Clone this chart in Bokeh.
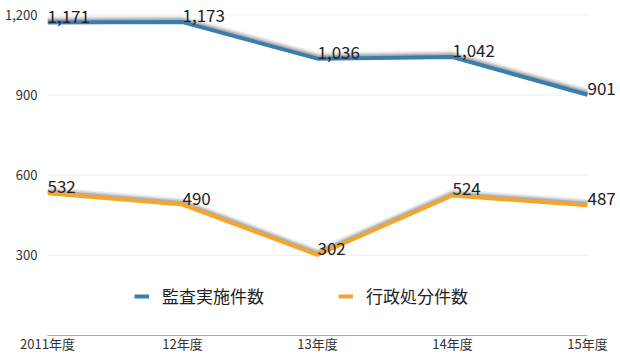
from bokeh.plotting import figure
from bokeh.models import Range1d, FixedTicker, Legend, LegendItem, ColumnDataSource, LabelSet, NumeralTickFormatter
from bokeh.core.properties import value
from bokeh.embed import file_html
from bokeh.resources import INLINE

categories = ["2011年度", "12年度", "13年度", "14年度", "15年度"]
audits = [1171, 1173, 1036, 1042, 901]
sanctions = [532, 490, 302, 524, 487]
series_names = ["監査実施件数", "行政処分件数"]
y_ticks = [300, 600, 900, 1200]

FONT = "Noto Sans CJK JP"
BLUE = "#3a7fab"
ORANGE = "#f4a52b"

xs = list(range(len(categories)))
last = len(categories) - 1

p = figure(width=620, height=355, output_backend="svg", toolbar_location=None,
           x_range=Range1d(0, last + 33 / 135), y_range=Range1d(0, 1250),
           min_border_left=47, min_border_right=0, min_border_top=1, min_border_bottom=10)
p.outline_line_color = None
p.background_fill_color = "white"
p.border_fill_color = "white"

# axes
p.xaxis.ticker = FixedTicker(ticks=xs)
p.xaxis.bounds = (0, last)
p.xaxis.major_label_overrides = {i: c for i, c in enumerate(categories)}
p.xaxis.major_tick_line_color = None
p.xaxis.major_tick_out = 0
p.xaxis.major_tick_in = 0
p.xaxis.minor_tick_line_color = None
p.xaxis.axis_line_color = "#aaaaaa"
p.xaxis.axis_line_width = 1
p.xaxis.major_label_standoff = -2
p.xaxis.major_label_text_font = FONT
p.xaxis.major_label_text_font_size = "13px"
p.xaxis.major_label_text_color = "#333333"

p.yaxis.ticker = FixedTicker(ticks=y_ticks)
p.yaxis.formatter = NumeralTickFormatter(format="0,0")
p.yaxis.major_tick_line_color = None
p.yaxis.major_tick_out = 0
p.yaxis.major_tick_in = 0
p.yaxis.minor_tick_line_color = None
p.yaxis.axis_line_color = None
p.yaxis.major_label_standoff = 10
p.yaxis.major_label_text_font = FONT
p.yaxis.major_label_text_font_size = "13px"
p.yaxis.major_label_text_color = "#333333"

p.xgrid.grid_line_color = None
p.ygrid.grid_line_color = None
p.segment(x0=[0] * len(y_ticks), x1=[last] * len(y_ticks), y0=y_ticks, y1=y_ticks,
          line_color="#eeeeee", line_width=1, level="underlay")

# shadows (soft gray above the lines)
px = 1250 / 333.0
for vals in (audits, sanctions):
    for off, w, a in [(3.5, 6, 0.10), (2.5, 5, 0.18), (1.5, 4, 0.28)]:
        p.line(xs, [v + off * px for v in vals], line_color="#555555", line_width=w, line_alpha=a)

r1 = p.line(xs, audits, line_color=BLUE, line_width=4)
r2 = p.line(xs, sanctions, line_color=ORANGE, line_width=4)

# data labels
for vals in (audits, sanctions):
    src = ColumnDataSource(dict(x=xs, y=vals, t=[f"{v:,}" for v in vals]))
    p.add_layout(LabelSet(x="x", y="y", text="t", source=src, x_offset=0, y_offset=0,
                          text_font=value(FONT), text_font_size=value("17px"), text_color="#222222",
                          text_align="left", text_baseline="bottom"))

legend = Legend(items=[LegendItem(label=series_names[0], renderers=[r1]),
                       LegendItem(label=series_names[1], renderers=[r2])],
                orientation="horizontal", location=(87, 27), padding=0, margin=0,
                spacing=74, glyph_width=15, glyph_height=20, label_standoff=13,
                label_text_font=FONT, label_text_font_size="17px", label_text_color="#222222",
                border_line_color=None, background_fill_alpha=0)
p.add_layout(legend)

open("out.html", "w").write(file_html(p, INLINE))
